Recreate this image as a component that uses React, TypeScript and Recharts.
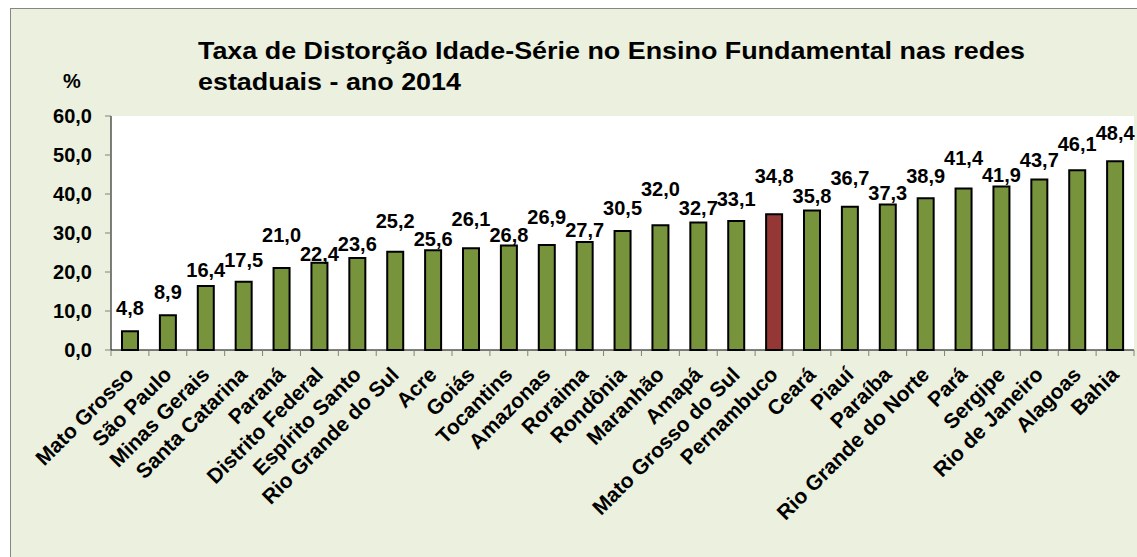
import { BarChart, Bar, XAxis, YAxis, CartesianGrid, Cell, LabelList } from 'recharts'

const states = [
  'Mato Grosso', 'São Paulo', 'Minas Gerais', 'Santa Catarina', 'Paraná',
  'Distrito Federal', 'Espírito Santo', 'Rio Grande do Sul', 'Acre', 'Goiás',
  'Tocantins', 'Amazonas', 'Roraima', 'Rondônia', 'Maranhão', 'Amapá',
  'Mato Grosso do Sul', 'Pernambuco', 'Ceará', 'Piauí', 'Paraíba',
  'Rio Grande do Norte', 'Pará', 'Sergipe', 'Rio de Janeiro', 'Alagoas', 'Bahia',
]

const rates = [
  4.8, 8.9, 16.4, 17.5, 21.0, 22.4, 23.6, 25.2, 25.6, 26.1, 26.8, 26.9, 27.7, 30.5,
  32.0, 32.7, 33.1, 34.8, 35.8, 36.7, 37.3, 38.9, 41.4, 41.9, 43.7, 46.1, 48.4,
]

const yTicks = [0, 10, 20, 30, 40, 50, 60]

const highlight = 'Pernambuco'

// extra lift (px) of each value label, the original has them staggered by hand
const labelLift = [12, 12, 5, 11, 22, -2, 3, 20, 0, 18, -1, 17, 1, 12, 25, 3, 11, 27, 3, 18, 1, 11, 20, 1, 9, 15, 17]

const data = states.map((name, i) => ({ name, value: rates[i] }))

const FONT = '"Liberation Sans", Arial, sans-serif'
const GREEN = '#77933C'
const RED = '#953735'
const BG = '#EBF1DE'

const CHART_W = 1126
const MARGIN = { top: 107, right: 3, bottom: 107, left: 0 }
const Y_W = 100
const PLOT_W = CHART_W - MARGIN.left - MARGIN.right - Y_W

const fmt = (v: number) => v.toFixed(1).replace('.', ',')

function XTick(props: any) {
  const { x, y, payload, index } = props
  const step = PLOT_W / states.length
  return (
    <g>
      <line x1={x - step / 2} x2={x - step / 2} y1={y} y2={y + 6} stroke="#808080" />
      {index === states.length - 1 && (
        <line x1={x + step / 2} x2={x + step / 2} y1={y} y2={y + 6} stroke="#808080" />
      )}
      <text
        transform={`translate(${x + 5},${y + 26}) rotate(-45)`}
        textAnchor="end"
        fontFamily={FONT}
        fontWeight="bold"
        fontSize={21}
        fill="#000"
      >
        {payload.value}
      </text>
    </g>
  )
}

function ValueLabel(props: any) {
  const { x, y, width, value, index } = props
  return (
    <text
      x={x + width / 2}
      y={y - 4 - labelLift[index]}
      textAnchor="middle"
      fontFamily={FONT}
      fontWeight="bold"
      fontSize={20}
      fill="#000"
    >
      {fmt(value)}
    </text>
  )
}

export default function App() {
  return (
    <div
      style={{
        position: 'fixed',
        left: 10,
        top: 8,
        width: 1127,
        height: 549,
        boxSizing: 'border-box',
        borderLeft: '1px solid #868686',
        borderTop: '1px solid #868686',
        background: BG,
        fontFamily: FONT,
      }}
    >
      <div style={{ position: 'absolute', left: 52, top: 61, fontSize: 20, fontWeight: 'bold' }}>%</div>
      <div
        style={{
          position: 'absolute',
          left: 187,
          top: 26,
          fontSize: 24,
          fontWeight: 'bold',
          lineHeight: '31px',
          whiteSpace: 'nowrap',
          transform: 'scaleX(1.12)',
          transformOrigin: 'left top',
        }}
      >
        Taxa de Distorção Idade-Série no Ensino Fundamental nas redes
        <br />
        estaduais - ano 2014
      </div>
      <div style={{ position: 'absolute', left: 0, top: 0 }}>
        <BarChart width={CHART_W} height={548} data={data} margin={MARGIN}>
          <CartesianGrid fill="#fff" horizontal={false} vertical={false} />
          <XAxis
            dataKey="name"
            interval={0}
            tickSize={0}
            tickMargin={0}
            tickLine={false}
            axisLine={{ stroke: '#000' }}
            tick={<XTick />}
            height={100}
          />
          <YAxis
            width={Y_W}
            domain={[0, 60]}
            ticks={yTicks}
            tickFormatter={fmt}
            tickSize={6}
            tickMargin={13}
            axisLine={{ stroke: '#000' }}
            tickLine={{ stroke: '#808080' }}
            tick={{ fontFamily: FONT, fontWeight: 'bold', fontSize: 20, fill: '#000' }}
          />
          <Bar dataKey="value" barSize={16} stroke="#000" strokeWidth={2} isAnimationActive={false}>
            {data.map((d, i) => (
              <Cell key={i} fill={d.name === highlight ? RED : GREEN} />
            ))}
            <LabelList dataKey="value" content={<ValueLabel />} />
          </Bar>
        </BarChart>
      </div>
    </div>
  )
}
